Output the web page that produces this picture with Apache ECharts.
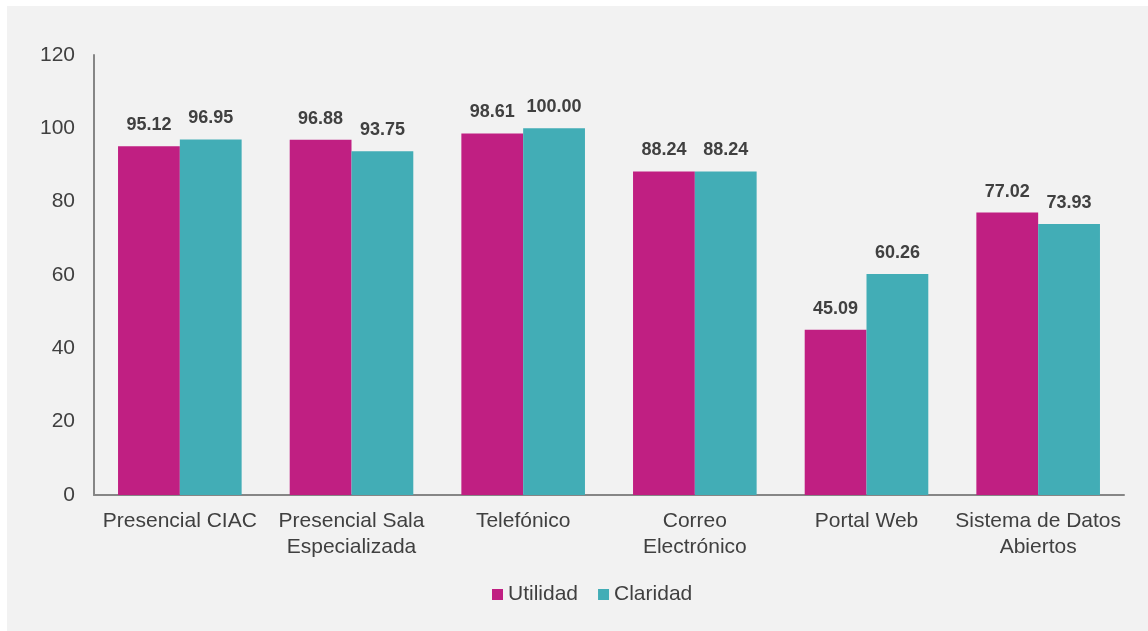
<!DOCTYPE html>
<html>
<head>
<meta charset="utf-8">
<script src="https://cdn.jsdelivr.net/npm/echarts@6/dist/echarts.min.js"></script>
<style>
html,body{margin:0;padding:0;background:#ffffff;}
#wrap{position:absolute;left:7px;top:6px;width:1141px;height:625px;background:#f2f2f2;}
#c{position:absolute;left:0;top:0;width:1148px;height:631px;}
</style>
</head>
<body>
<div id="wrap"></div>
<div id="c"></div>
<script>
const categories = ["Presencial CIAC", "Presencial Sala\nEspecializada", "Telefónico", "Correo\nElectrónico", "Portal Web", "Sistema de Datos\nAbiertos"];
const utilidad = [95.12, 96.88, 98.61, 88.24, 45.09, 77.02];
const claridad = [96.95, 93.75, 100.00, 88.24, 60.26, 73.93];
const yTicks = [0, 20, 40, 60, 80, 100, 120];

const chart = echarts.init(document.getElementById('c'), null, {renderer: 'canvas'});
const font = "'Liberation Sans', Arial, sans-serif";
const labelStyle = {
  show: true, position: 'top', distance: 12,
  formatter: p => p.value.toFixed(2),
  fontFamily: font, fontSize: 18, fontWeight: 'bold', color: '#404040'
};
chart.setOption({
  backgroundColor: 'transparent',
  animation: false,
  grid: {left: 94, right: 24, top: 55, bottom: 136},
  legend: {
    data: ['Utilidad', 'Claridad'],
    top: 579, left: 487,
    itemWidth: 11, itemHeight: 11, itemGap: 20,
    icon: 'rect',
    textStyle: {fontFamily: font, fontSize: 21, color: '#404040'}
  },
  xAxis: {
    type: 'category',
    data: categories,
    axisLine: {lineStyle: {color: '#868686', width: 2}},
    axisTick: {show: false},
    axisLabel: {fontFamily: font, fontSize: 21, color: '#404040', margin: 13, lineHeight: 26, interval: 0}
  },
  yAxis: {
    type: 'value', min: 0, max: 120, interval: 20,
    axisLine: {show: true, lineStyle: {color: '#868686', width: 2}},
    axisTick: {show: false},
    splitLine: {show: false},
    axisLabel: {fontFamily: font, fontSize: 21, color: '#404040', margin: 19,
      formatter: v => yTicks.includes(v) ? String(v) : ''}
  },
  series: [
    {name: 'Utilidad', type: 'bar', data: utilidad, barGap: '0%', barCategoryGap: '28%',
     itemStyle: {color: '#C01F82'}, label: labelStyle},
    {name: 'Claridad', type: 'bar', data: claridad, barGap: '0%', barCategoryGap: '28%',
     itemStyle: {color: '#42ADB6'}, label: labelStyle}
  ]
});
</script>
</body>
</html>
